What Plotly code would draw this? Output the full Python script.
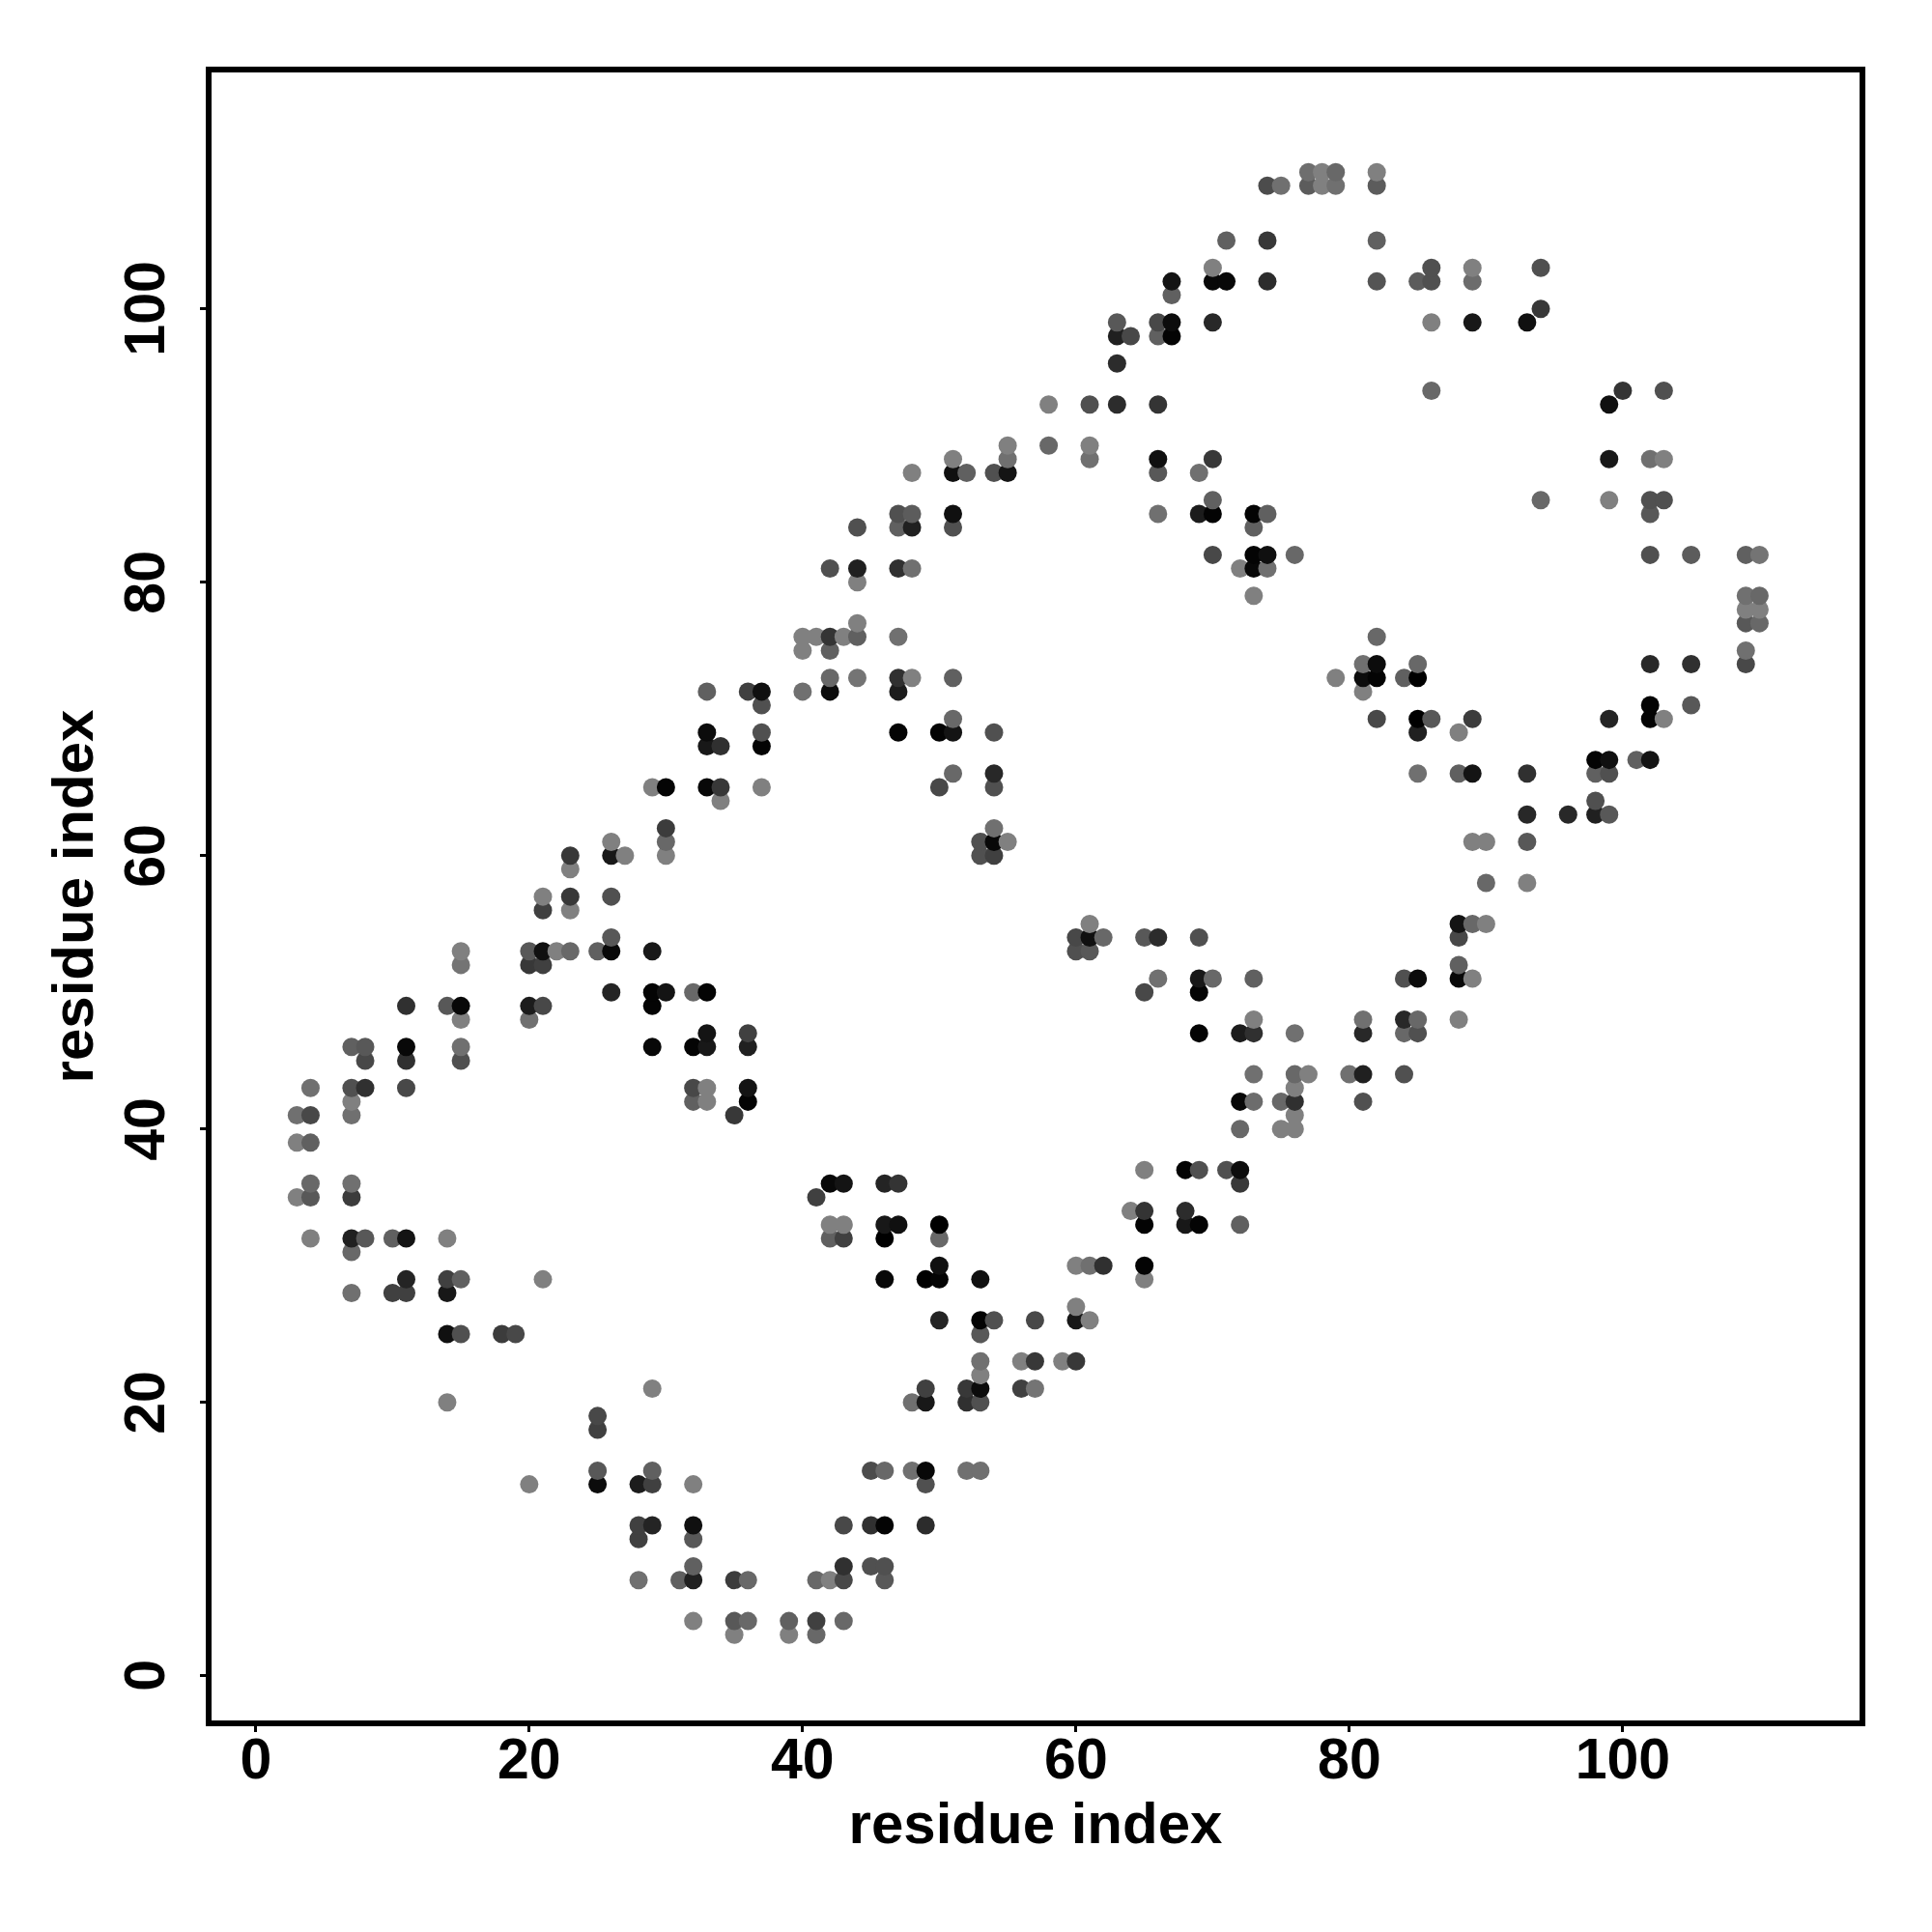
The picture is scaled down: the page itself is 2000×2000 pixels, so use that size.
import plotly.graph_objects as go

row_y = [3,4,7,8,10,11,14,15,18,19,20,21,22,23,25,26,27,28,29,30,31,32,33,34,35,36,37,39,40,41,42,43,44,45,46,47,48,49,50,51,52,53,54,55,56,57,58,59,60,61,62,63,64,65,66,67,68,69,70,71,72,73,74,75,76,77,78,79,80,81,82,84,85,86,88,89,90,93,94,96,98,99,100,101,102,103,105,109,110]

row_x = [
[35,39,41],[32,35,36,39,41,43],[28,31,32,35,36,41,42,43,46],[32,43,45,46],[28,32],
[28,29,32,43,45,46,49],[20,25,28,29,32,49],[25,29,45,46,48,49,52,53],[25],[25],
[14,48,49,52,53],[29,49,52,53,56,57],[53],[53,56,57,59,60],[14,15,18,19,53],
[50,53,54,57,60,61],[60],[7,10,11,14],[11,14,15,21,46,49,50,53,65],[50,60,61,62,65],
[7],[4,7,8,10,11,14,42,43,46,50],[42,43,46,47,50,65,68,69,72],[64,65,68],[3,4,7,41],
[4,7,42,43,46,47,72],[65,68,69,71,72],[3,4],[72,75,76],[3,4,7,35,76],
[7,32,33,36,72,73,75,76,81],[4,7,8,11,32,33,36,76],[73,76,77,80,81,84],[8,11,15],
[7,8,11,15,29,32,33,36],[33,36,69,72,73,76,81,84,85],[15,20,73,81,84,85,88],
[11,14,15,20,21,29],[26,29,30,32,33,65,69],[66,69,70,73,84,85,88,89],[15,20,21,88],
[15,20,21,22,23,25,26,29,60,61],[26,60,61,62,65,66,69,88],[61,88,89,90],[21,23],
[21,23,26],[90,93],[23],[23,26,27,30,53,54],[26,30,53,54,55,89,90,93],[30,54],
[93,96,98,99],[34,98],[29,30,33,34,37,50,54],[51,54,85,88,89,93,98,99],[98,99,101,102],
[33,34,37],[33,37,47,50,51,54,85,88],[51,82,85,86,89,99,102,103],[37,102,105],
[33,36,37,40,42,47,81],[42,44,47,48,51,79,81,82,84,85],[81,82,85,102,105,109],
[40,42,109],[40,41,42,43,44,47,82],[44,109,110],[109,110],[73,109,110],[44],
[42,44,47,48,72,73,74],[70,73,74,76,102,105,109,110],[44,47,48,51,73],
[47,48,51,66,69,70,73,74,102],[70,94,99,102,103],[48,51,52,54,55,66,69],
[51,55,61,66,70,99,102,103],[55,58,61],[58,61,63,66,99],[86,100,103],[63],[63,64,66,67],
[63,66,67,70,86,89,93],[94],[67],[67,70,71,74,82,85,86,89],[70,86,89,94],[71,74,82],
[74,75,77,78,79,82],[77,78,79,82],
]

row_grey = [
"80 80 68","80 58 68 60 40 68","70 60 20 3c 68 68 80 48 58","60 30 50 50","40 58",
"40 24 10 48 30 04 2c","80 0c 1c 40 80 50","58 60 4c 68 70 08 70 70","40","48",
"80 70 18 30 50","80 40 38 0c 40 74","80","70 80 38 80 38","10 50 3c 48 58",
"24 04 50 48 18 80","80","70 40 40 18","24 40 60 80 08 00 04 10 80","10 80 70 30 04",
"68","80 20 58 60 14 80 60 40 00 68","80 80 18 10 00 04 18 04 60","80 34 2c","80 58 3c 40",
"68 70 08 14 24 34 38","80 04 50 50 0c","80 60","68 80 80","70 48 70 38 80",
"80 60 80 04 08 6c 68 30 50","70 50 30 48 48 80 14 80","70 68 80 70 20 50","48 30 50",
"60 58 08 70 08 04 18 20","14 40 04 1c 30 70 28 68 50","80 70 80 70 28 68 80",
"30 58 08 1c 48 04","24 04 14 68 04 48 04","70 18 68 60 50 0c 08 80","74 38 40 60",
"80 58 10 80 68 60 08 18 50 58","58 48 10 68 58 2c 50 48","80 14 68 80","40 80",
"80 38 50","68 80","80","38 18 80 80 50 40","80 68 50 08 80 80 80 58","3c 70",
"28 28 20 58","80 50","80 04 08 38 80 48 50","68 28 70 60 14 30 60 50","04 10 60 14",
"18 30 04","0c 50 04 04 14 50 20 80","68 48 00 58 3c 24 04 80","50 04 58",
"60 40 10 70 0c 1c 80","68 74 30 80 60 80 0c 04 60 00","70 0c 68 28 30 48",
"80 60 70","80 80 34 80 60 70 68","80 58 68","80 80","80 70 68","80",
"50 20 30 70 80 08 70","48 04 10 68 50 5c 60 74","50 60 20 50 60",
"50 5c 10 70 1c 04 04 60 58","60 68 80 50 50","80 10 60 50 14 58 70",
"80 70 70 10 38 18 70 80","80 68 80","80 50 2c 34 10","68 34 50","2c","20 48 60 04",
"58 48 0c 28 80 18 10","38","60","14 08 08 2c 54 5c 50 6c","80 50 80 50","60 38 60",
"4c 70 5c 80 70 5c","6e 80 68 80",
]

tick_vals = [0, 20, 40, 60, 80, 100]
axis_title = "residue index"
font_family = "Liberation Sans"

xs, ys, colors = [], [], []
for y, xrow, grow in zip(row_y, row_x, row_grey):
    shades = grow.split()
    assert len(xrow) == len(shades), y
    for x, g in zip(xrow, shades):
        v = int(g, 16)
        xs.append(x); ys.append(y); colors.append(f"rgb({v},{v},{v})")

fig = go.Figure(go.Scatter(x=xs, y=ys, mode="markers",
                           marker=dict(size=19, color=colors, line=dict(width=0))))

tick_font = dict(family=font_family, size=59, color="black", weight="bold")
title_font = dict(family=font_family, size=60, color="black", weight="bold")
axis_common = dict(
    tickvals=tick_vals, ticks="outside", ticklen=6, tickwidth=3, tickcolor="black",
    showline=True, linewidth=6, linecolor="black", mirror=True,
    showgrid=False, zeroline=False, tickfont=tick_font,
)
fig.update_xaxes(range=[-3.24, 117.32], ticklabelstandoff=-23, **axis_common,
                 title=dict(text=axis_title, standoff=10, font=title_font))
fig.update_yaxes(range=[-3.27, 117.29], showticklabels=False, **axis_common,
                 title=dict(text=axis_title, standoff=93, font=title_font))
for v in tick_vals:
    fig.add_annotation(text=str(v), xref="paper", yref="y", x=0, y=v, showarrow=False,
                       textangle=-90, font=tick_font, xanchor="center", yanchor="middle",
                       xshift=-69, yshift=0)
fig.update_layout(width=2000, height=2000, autosize=False,
                  margin=dict(l=219, r=75, t=75, b=219, pad=0, autoexpand=False),
                  plot_bgcolor="white", paper_bgcolor="white", showlegend=False)
fig.write_html("out.html", config=dict(displayModeBar=False),
               post_script="document.body.style.margin='0';")
